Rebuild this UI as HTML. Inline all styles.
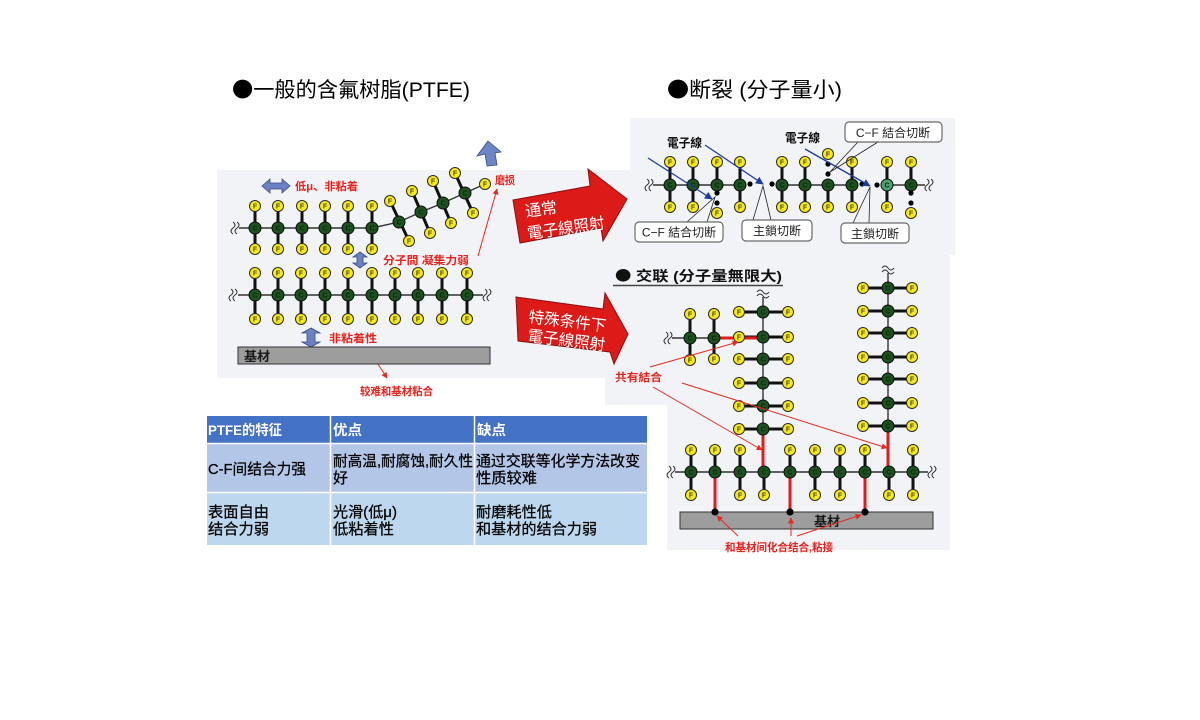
<!DOCTYPE html>
<html><head><meta charset="utf-8">
<style>
html,body{margin:0;padding:0;background:#fff;}
svg{display:block;}
text{font-family:"Liberation Sans","Noto Sans CJK SC",sans-serif;}
.F{fill:#f6ea1c;stroke:#2a2a2a;stroke-width:1;}
.C{fill:#1e5120;stroke:#0d0d0d;stroke-width:1;}
.CL{fill:#4fa070;stroke:#0d0d0d;stroke-width:1;}
.ft text{font-size:7px;font-weight:bold;text-anchor:middle;fill:#4a4a20;}
.ct text{font-size:7px;font-weight:bold;text-anchor:middle;fill:#0a2a0a;}
.bd{stroke:#111;stroke-width:3;fill:none;}
.bb{stroke:#333;stroke-width:1.4;fill:none;}
.sq{stroke:#333;stroke-width:1;fill:none;}
.rb{stroke:#e21b1b;stroke-width:3;fill:none;}
.rl{stroke:#e42a22;stroke-width:1;fill:none;}
.red{fill:#e4241e;font-weight:bold;font-size:11px;}
.bl{stroke:#1c3c9c;stroke-width:1.3;fill:none;}
.box{fill:#fff;stroke:#6a6a6a;stroke-width:1.2;}
.bt{font-size:12px;text-anchor:middle;fill:#222;}
.tb{font-size:15px;fill:#000;stroke:#000;stroke-width:0.25;}
.th{font-size:14px;fill:#fff;font-weight:bold;}
.aw{font-size:16px;fill:#fff;}
.cjk{font-family:"Noto Sans CJK SC",sans-serif;}
</style></head>
<body>
<svg width="1200" height="720" viewBox="0 0 1200 720" xmlns="http://www.w3.org/2000/svg">
<defs>
<marker id="ar" viewBox="0 0 10 10" refX="9" refY="5" markerWidth="6" markerHeight="6" orient="auto"><path d="M0,0 L10,5 L0,10 z" fill="#e42a22"/></marker>
<marker id="ab" viewBox="0 0 10 10" refX="9" refY="5" markerWidth="6" markerHeight="6" orient="auto"><path d="M0,0 L10,5 L0,10 z" fill="#1c3c9c"/></marker>
</defs>
<rect width="1200" height="720" fill="#fff"/>

<!-- backgrounds -->
<rect x="217" y="170" width="420" height="208" fill="#f2f3f7"/>
<rect x="630" y="118" width="325" height="137" fill="#f2f3f7"/>
<rect x="605" y="255" width="345" height="150" fill="#f2f3f7"/>
<rect x="667" y="400" width="283" height="150" fill="#f2f3f7"/>

<!-- titles -->
<text x="232" y="97" font-size="21" textLength="238" lengthAdjust="spacingAndGlyphs" fill="#000"><tspan class="cjk">●</tspan>一般的含氟树脂(PTFE)</text>
<text x="667" y="97" font-size="21" textLength="175" lengthAdjust="spacingAndGlyphs" fill="#000"><tspan class="cjk">●</tspan>断裂 (分子量小)</text>

<!-- ===== LEFT PANEL ===== -->
<polyline class="bb" points="239,228 372,228 399,222 421,212 443,203 465,193 485,184"/>
<path class="sq" d="M233,222 q4,3 0,6 q-4,3 0,6 M237,222 q4,3 0,6 q-4,3 0,6"/>
<g class="bd">
<line x1="255" y1="206" x2="255" y2="249"/><line x1="278" y1="206" x2="278" y2="249"/>
<line x1="302" y1="206" x2="302" y2="249"/><line x1="325" y1="206" x2="325" y2="249"/>
<line x1="348" y1="206" x2="348" y2="249"/><line x1="372" y1="206" x2="372" y2="249"/>
<line x1="390" y1="201" x2="409" y2="241"/><line x1="412" y1="191" x2="430" y2="233"/>
<line x1="433" y1="181" x2="451" y2="223"/><line x1="455" y1="173" x2="473" y2="213"/>
</g>
<line class="bb" x1="238" y1="295" x2="483" y2="295"/>
<path class="sq" d="M231,289 q4,3 0,6 q-4,3 0,6 M235,289 q4,3 0,6 q-4,3 0,6"/>
<path class="sq" d="M485,289 q4,3 0,6 q-4,3 0,6 M489,289 q4,3 0,6 q-4,3 0,6"/>
<g class="bd">
<line x1="255" y1="273" x2="255" y2="319"/><line x1="278" y1="273" x2="278" y2="319"/>
<line x1="301" y1="273" x2="301" y2="319"/><line x1="325" y1="273" x2="325" y2="319"/>
<line x1="348" y1="273" x2="348" y2="319"/><line x1="372" y1="273" x2="372" y2="319"/>
<line x1="395" y1="273" x2="395" y2="319"/><line x1="418" y1="273" x2="418" y2="319"/>
<line x1="442" y1="273" x2="442" y2="319"/><line x1="467" y1="273" x2="467" y2="319"/>
</g>

<g class="ft">
<circle class="F" cx="255" cy="206" r="5.5"/><text x="255" y="208.5">F</text>
<circle class="F" cx="278" cy="206" r="5.5"/><text x="278" y="208.5">F</text>
<circle class="F" cx="302" cy="206" r="5.5"/><text x="302" y="208.5">F</text>
<circle class="F" cx="325" cy="206" r="5.5"/><text x="325" y="208.5">F</text>
<circle class="F" cx="348" cy="206" r="5.5"/><text x="348" y="208.5">F</text>
<circle class="F" cx="372" cy="206" r="5.5"/><text x="372" y="208.5">F</text>
<circle class="F" cx="255" cy="249" r="5.5"/><text x="255" y="251.5">F</text>
<circle class="F" cx="278" cy="249" r="5.5"/><text x="278" y="251.5">F</text>
<circle class="F" cx="302" cy="249" r="5.5"/><text x="302" y="251.5">F</text>
<circle class="F" cx="325" cy="249" r="5.5"/><text x="325" y="251.5">F</text>
<circle class="F" cx="348" cy="249" r="5.5"/><text x="348" y="251.5">F</text>
<circle class="F" cx="372" cy="249" r="5.5"/><text x="372" y="251.5">F</text>
<circle class="F" cx="390" cy="201" r="5.5"/><text x="390" y="203.5">F</text>
<circle class="F" cx="409" cy="241" r="5.5"/><text x="409" y="243.5">F</text>
<circle class="F" cx="412" cy="191" r="5.5"/><text x="412" y="193.5">F</text>
<circle class="F" cx="430" cy="233" r="5.5"/><text x="430" y="235.5">F</text>
<circle class="F" cx="433" cy="181" r="5.5"/><text x="433" y="183.5">F</text>
<circle class="F" cx="451" cy="223" r="5.5"/><text x="451" y="225.5">F</text>
<circle class="F" cx="455" cy="173" r="5.5"/><text x="455" y="175.5">F</text>
<circle class="F" cx="473" cy="213" r="5.5"/><text x="473" y="215.5">F</text>
<circle class="F" cx="485" cy="184" r="5.5"/><text x="485" y="186.5">F</text>

<circle class="F" cx="255" cy="273" r="5.5"/><text x="255" y="275.5">F</text>
<circle class="F" cx="278" cy="273" r="5.5"/><text x="278" y="275.5">F</text>
<circle class="F" cx="301" cy="273" r="5.5"/><text x="301" y="275.5">F</text>
<circle class="F" cx="325" cy="273" r="5.5"/><text x="325" y="275.5">F</text>
<circle class="F" cx="348" cy="273" r="5.5"/><text x="348" y="275.5">F</text>
<circle class="F" cx="372" cy="273" r="5.5"/><text x="372" y="275.5">F</text>
<circle class="F" cx="395" cy="273" r="5.5"/><text x="395" y="275.5">F</text>
<circle class="F" cx="418" cy="273" r="5.5"/><text x="418" y="275.5">F</text>
<circle class="F" cx="442" cy="273" r="5.5"/><text x="442" y="275.5">F</text>
<circle class="F" cx="467" cy="273" r="5.5"/><text x="467" y="275.5">F</text>
<circle class="F" cx="255" cy="319" r="5.5"/><text x="255" y="321.5">F</text>
<circle class="F" cx="278" cy="319" r="5.5"/><text x="278" y="321.5">F</text>
<circle class="F" cx="301" cy="319" r="5.5"/><text x="301" y="321.5">F</text>
<circle class="F" cx="325" cy="319" r="5.5"/><text x="325" y="321.5">F</text>
<circle class="F" cx="348" cy="319" r="5.5"/><text x="348" y="321.5">F</text>
<circle class="F" cx="372" cy="319" r="5.5"/><text x="372" y="321.5">F</text>
<circle class="F" cx="395" cy="319" r="5.5"/><text x="395" y="321.5">F</text>
<circle class="F" cx="418" cy="319" r="5.5"/><text x="418" y="321.5">F</text>
<circle class="F" cx="442" cy="319" r="5.5"/><text x="442" y="321.5">F</text>
<circle class="F" cx="467" cy="319" r="5.5"/><text x="467" y="321.5">F</text>
</g>
<g class="ct">
<circle class="C" cx="255" cy="228" r="6"/><text x="255" y="230.5">C</text>
<circle class="C" cx="278" cy="228" r="6"/><text x="278" y="230.5">C</text>
<circle class="C" cx="302" cy="228" r="6"/><text x="302" y="230.5">C</text>
<circle class="C" cx="325" cy="228" r="6"/><text x="325" y="230.5">C</text>
<circle class="C" cx="348" cy="228" r="6"/><text x="348" y="230.5">C</text>
<circle class="C" cx="372" cy="228" r="6"/><text x="372" y="230.5">C</text>
<circle class="C" cx="399" cy="222" r="6"/><text x="399" y="224.5">C</text>
<circle class="C" cx="421" cy="212" r="6"/><text x="421" y="214.5">C</text>
<circle class="C" cx="443" cy="203" r="6"/><text x="443" y="205.5">C</text>
<circle class="C" cx="465" cy="193" r="6"/><text x="465" y="195.5">C</text>
<circle class="C" cx="255" cy="295" r="6"/><text x="255" y="297.5">C</text>
<circle class="C" cx="278" cy="295" r="6"/><text x="278" y="297.5">C</text>
<circle class="C" cx="301" cy="295" r="6"/><text x="301" y="297.5">C</text>
<circle class="C" cx="325" cy="295" r="6"/><text x="325" y="297.5">C</text>
<circle class="C" cx="348" cy="295" r="6"/><text x="348" y="297.5">C</text>
<circle class="C" cx="372" cy="295" r="6"/><text x="372" y="297.5">C</text>
<circle class="C" cx="395" cy="295" r="6"/><text x="395" y="297.5">C</text>
<circle class="C" cx="418" cy="295" r="6"/><text x="418" y="297.5">C</text>
<circle class="C" cx="442" cy="295" r="6"/><text x="442" y="297.5">C</text>
<circle class="C" cx="467" cy="295" r="6"/><text x="467" y="297.5">C</text>
</g>

<polygon points="262,186 270,179 270,183 282,183 282,179 290,186 282,193 282,189 270,189 270,193" fill="#6c80c4" stroke="#3a4a80" stroke-width="0.8"/>
<polygon points="360,252 367,257 363,257 363,263 367,263 360,268 353,263 357,263 357,257 353,257" fill="#6c80c4" stroke="#3a4a80" stroke-width="0.8"/>
<polygon points="311,328 320,333 315,333 315,342 320,342 311,347 302,342 307,342 307,333 302,333" fill="#6c80c4" stroke="#3a4a80" stroke-width="0.8"/>
<polygon points="488,141 501,152 495,153 497,165 487,166 485,154 477,156" fill="#6c86c8" stroke="#3a4a80" stroke-width="0.8"/>

<text class="red" x="295" y="190" textLength="63" lengthAdjust="spacingAndGlyphs">低μ、非粘着</text>
<text class="red" x="383" y="264" textLength="86" lengthAdjust="spacingAndGlyphs">分子間 凝集力弱</text>
<text class="red" x="329" y="342" font-size="12" textLength="48" lengthAdjust="spacingAndGlyphs">非粘着性</text>
<text class="red" x="495" y="184" textLength="20" lengthAdjust="spacingAndGlyphs">磨损</text>
<line class="rl" x1="478" y1="256" x2="497" y2="189" marker-end="url(#ar)"/>
<line class="rl" x1="367" y1="347" x2="387" y2="378" marker-end="url(#ar)"/>
<text class="red" x="360" y="395" font-size="10.5" textLength="73" lengthAdjust="spacingAndGlyphs">较难和基材粘合</text>

<rect x="238" y="347" width="252" height="17" fill="#9d9d9d" stroke="#333" stroke-width="1"/>
<text x="244" y="361" font-size="13" font-weight="bold" fill="#1a1a1a">基材</text>

<!-- ===== RED ARROWS ===== -->
<polygon points="513,200 590,186 588,169 627,199 603,241 601,228 520,243" fill="#dc1a18" stroke="#8a1010" stroke-width="1"/>
<text class="aw" transform="translate(526,217) rotate(-8)">通常</text>
<text class="aw" transform="translate(528,239) rotate(-8)" textLength="78" lengthAdjust="spacingAndGlyphs">電子線照射</text>
<polygon points="516,297 603,309 605,293 628,334 614,364 610,352 518,341" fill="#dc1a18" stroke="#8a1010" stroke-width="1"/>
<text class="aw" transform="translate(528,322) rotate(7)" textLength="78" lengthAdjust="spacingAndGlyphs">特殊条件下</text>
<text class="aw" transform="translate(527,341) rotate(7)" textLength="78" lengthAdjust="spacingAndGlyphs">電子線照射</text>

<!-- ===== TABLE ===== -->
<rect x="207" y="416" width="440" height="27" fill="#4472c4"/>
<rect x="207" y="444" width="440" height="48" fill="#b4c6e7"/>
<rect x="207" y="493" width="440" height="52" fill="#bdd7ee"/>
<line x1="330.5" y1="416" x2="330.5" y2="545" stroke="#fff" stroke-width="1.5"/>
<line x1="474.5" y1="416" x2="474.5" y2="545" stroke="#fff" stroke-width="1.5"/>
<line x1="207" y1="443.5" x2="647" y2="443.5" stroke="#fff" stroke-width="1.5"/>
<line x1="207" y1="492.5" x2="647" y2="492.5" stroke="#fff" stroke-width="1.5"/>
<text class="th" x="208" y="435" textLength="74" lengthAdjust="spacingAndGlyphs">PTFE的特征</text>
<text class="th" x="333" y="435" textLength="29" lengthAdjust="spacingAndGlyphs">优点</text>
<text class="th" x="477" y="435" textLength="29" lengthAdjust="spacingAndGlyphs">缺点</text>
<text class="tb" x="208" y="474" font-size="14" textLength="98" lengthAdjust="spacingAndGlyphs">C-F间结合力强</text>
<text class="tb" x="333" y="466" textLength="140" lengthAdjust="spacingAndGlyphs">耐高温,耐腐蚀,耐久性</text>
<text class="tb" x="333" y="483">好</text>
<text class="tb" x="476" y="466" textLength="164" lengthAdjust="spacingAndGlyphs">通过交联等化学方法改变</text>
<text class="tb" x="476" y="483" textLength="61" lengthAdjust="spacingAndGlyphs">性质较难</text>
<text class="tb" x="208" y="517" textLength="61" lengthAdjust="spacingAndGlyphs">表面自由</text>
<text class="tb" x="208" y="534" textLength="61" lengthAdjust="spacingAndGlyphs">结合力弱</text>
<text class="tb" x="333" y="517" textLength="64" lengthAdjust="spacingAndGlyphs">光滑(低μ)</text>
<text class="tb" x="333" y="534" textLength="61" lengthAdjust="spacingAndGlyphs">低粘着性</text>
<text class="tb" x="476" y="517" textLength="76" lengthAdjust="spacingAndGlyphs">耐磨耗性低</text>
<text class="tb" x="476" y="534" textLength="121" lengthAdjust="spacingAndGlyphs">和基材的结合力弱</text>

<!-- ===== RIGHT TOP (scission) ===== -->
<line class="bb" x1="653" y1="185" x2="746" y2="185"/>
<line class="bb" x1="776" y1="185" x2="858" y2="185"/>
<line class="bb" x1="881" y1="185" x2="925" y2="185"/>
<path class="sq" d="M647,179 q4,3 0,6 q-4,3 0,6 M651,179 q4,3 0,6 q-4,3 0,6"/>
<path class="sq" d="M927,179 q4,3 0,6 q-4,3 0,6 M931,179 q4,3 0,6 q-4,3 0,6"/>
<g class="bd">
<line x1="670" y1="162" x2="670" y2="207"/><line x1="693" y1="162" x2="693" y2="207"/>
<line x1="717" y1="162" x2="717" y2="185"/><line x1="740" y1="162" x2="740" y2="207"/>
<line x1="782" y1="162" x2="782" y2="207"/><line x1="805" y1="162" x2="805" y2="207"/>
<line x1="828" y1="185" x2="828" y2="207"/><line x1="852" y1="162" x2="852" y2="207"/>
<line x1="887" y1="162" x2="887" y2="207"/><line x1="911" y1="162" x2="911" y2="185"/>
</g>
<g fill="#000">
<circle cx="750" cy="184" r="2.6"/><circle cx="717" cy="193" r="2.6"/><circle cx="717" cy="203" r="2.6"/>
<circle cx="772" cy="184" r="2.6"/><circle cx="828" cy="174" r="2.6"/><circle cx="828" cy="164" r="2.6"/>
<circle cx="862" cy="184" r="2.6"/><circle cx="877" cy="185" r="2.6"/>
<circle cx="911" cy="193" r="2.6"/><circle cx="911" cy="203" r="2.6"/>
</g>
<g class="ft">
<circle class="F" cx="670" cy="162" r="5.5"/><text x="670" y="164.5">F</text>
<circle class="F" cx="693" cy="162" r="5.5"/><text x="693" y="164.5">F</text>
<circle class="F" cx="717" cy="162" r="5.5"/><text x="717" y="164.5">F</text>
<circle class="F" cx="740" cy="162" r="5.5"/><text x="740" y="164.5">F</text>
<circle class="F" cx="670" cy="207" r="5.5"/><text x="670" y="209.5">F</text>
<circle class="F" cx="693" cy="207" r="5.5"/><text x="693" y="209.5">F</text>
<circle class="F" cx="717" cy="213" r="5.5"/><text x="717" y="215.5">F</text>
<circle class="F" cx="740" cy="207" r="5.5"/><text x="740" y="209.5">F</text>
<circle class="F" cx="782" cy="162" r="5.5"/><text x="782" y="164.5">F</text>
<circle class="F" cx="805" cy="162" r="5.5"/><text x="805" y="164.5">F</text>
<circle class="F" cx="828" cy="154" r="5.5"/><text x="828" y="156.5">F</text>
<circle class="F" cx="852" cy="162" r="5.5"/><text x="852" y="164.5">F</text>
<circle class="F" cx="782" cy="207" r="5.5"/><text x="782" y="209.5">F</text>
<circle class="F" cx="805" cy="207" r="5.5"/><text x="805" y="209.5">F</text>
<circle class="F" cx="828" cy="207" r="5.5"/><text x="828" y="209.5">F</text>
<circle class="F" cx="852" cy="207" r="5.5"/><text x="852" y="209.5">F</text>
<circle class="F" cx="887" cy="162" r="5.5"/><text x="887" y="164.5">F</text>
<circle class="F" cx="911" cy="162" r="5.5"/><text x="911" y="164.5">F</text>
<circle class="F" cx="887" cy="207" r="5.5"/><text x="887" y="209.5">F</text>
<circle class="F" cx="911" cy="213" r="5.5"/><text x="911" y="215.5">F</text>
</g>
<g class="ct">
<circle class="C" cx="670" cy="185" r="6"/><text x="670" y="187.5">C</text>
<circle class="C" cx="693" cy="185" r="6"/><text x="693" y="187.5">C</text>
<circle class="C" cx="717" cy="185" r="6"/><text x="717" y="187.5">C</text>
<circle class="C" cx="740" cy="185" r="6"/><text x="740" y="187.5">C</text>
<circle class="C" cx="782" cy="185" r="6"/><text x="782" y="187.5">C</text>
<circle class="C" cx="805" cy="185" r="6"/><text x="805" y="187.5">C</text>
<circle class="C" cx="828" cy="185" r="6"/><text x="828" y="187.5">C</text>
<circle class="C" cx="852" cy="185" r="6"/><text x="852" y="187.5">C</text>
<circle class="CL" cx="887" cy="185" r="6"/><text x="887" y="187.5">C</text>
<circle class="C" cx="911" cy="185" r="6"/><text x="911" y="187.5">C</text>
</g>
<line class="bl" x1="648" y1="158" x2="712" y2="199" marker-end="url(#ab)"/>
<line class="bl" x1="705" y1="145" x2="763" y2="184" marker-end="url(#ab)"/>
<line class="bl" x1="805" y1="149" x2="870" y2="186" marker-end="url(#ab)"/>
<text x="667" y="147" font-size="12" font-weight="bold" fill="#111" textLength="35" lengthAdjust="spacingAndGlyphs">電子線</text>
<text x="785" y="142" font-size="12" font-weight="bold" fill="#111" textLength="35" lengthAdjust="spacingAndGlyphs">電子線</text>
<g stroke="#222" stroke-width="0.8" fill="none">
<polyline points="687,222 715,197 707,222"/>
<polyline points="753,220 763,186 771,220"/>
<polyline points="853,223 870,187 869,223"/>
<polyline points="858,142 830,172 878,142"/>
</g>
<rect class="box" x="635" y="222" width="88" height="20" rx="4"/>
<text class="bt" x="679" y="236.5">C−F 結合切断</text>
<rect class="box" x="742" y="220" width="70" height="21" rx="4"/>
<text class="bt" x="777" y="235">主鎖切断</text>
<rect class="box" x="841" y="223" width="68" height="20" rx="4"/>
<text class="bt" x="875" y="238">主鎖切断</text>
<rect class="box" x="845" y="122" width="97" height="20" rx="4"/>
<text class="bt" x="893" y="137">C−F 結合切断</text>

<!-- ===== CROSSLINK ===== -->
<text x="615" y="281" font-size="14" font-weight="bold" fill="#111" textLength="167" lengthAdjust="spacingAndGlyphs"><tspan class="cjk">●</tspan> 交联 (分子量無限大)</text>
<line x1="613" y1="285.5" x2="783" y2="285.5" stroke="#444" stroke-width="1.5"/>

<line class="bb" x1="672" y1="338" x2="714" y2="338"/>
<path class="sq" d="M666,332 q4,3 0,6 q-4,3 0,6 M670,332 q4,3 0,6 q-4,3 0,6"/>
<line class="bb" x1="763" y1="297" x2="763" y2="429"/>
<path class="sq" d="M757,292 q3,-4 6,0 q3,4 6,0 M757,296 q3,-4 6,0 q3,4 6,0"/>
<line class="bb" x1="888" y1="273" x2="888" y2="426"/>
<path class="sq" d="M882,268 q3,-4 6,0 q3,4 6,0 M882,272 q3,-4 6,0 q3,4 6,0"/>
<line class="bb" x1="675" y1="472" x2="928" y2="472"/>
<path class="sq" d="M669,466 q4,3 0,6 q-4,3 0,6 M673,466 q4,3 0,6 q-4,3 0,6"/>
<path class="sq" d="M930,466 q4,3 0,6 q-4,3 0,6 M934,466 q4,3 0,6 q-4,3 0,6"/>

<g class="bd">
<line x1="690" y1="314" x2="690" y2="360"/><line x1="714" y1="314" x2="714" y2="359"/>
<line x1="739" y1="312" x2="788" y2="312"/><line x1="739" y1="337" x2="788" y2="337"/>
<line x1="739" y1="359" x2="788" y2="359"/><line x1="739" y1="383" x2="788" y2="383"/>
<line x1="739" y1="406" x2="788" y2="406"/><line x1="739" y1="429" x2="788" y2="429"/>
<line x1="863" y1="288" x2="912" y2="288"/><line x1="863" y1="311" x2="912" y2="311"/>
<line x1="863" y1="333" x2="912" y2="333"/><line x1="863" y1="357" x2="912" y2="357"/>
<line x1="863" y1="379" x2="912" y2="379"/><line x1="863" y1="403" x2="912" y2="403"/>
<line x1="863" y1="426" x2="912" y2="426"/>
<line x1="691" y1="450" x2="691" y2="495"/><line x1="715" y1="450" x2="715" y2="472"/>
<line x1="740" y1="450" x2="740" y2="495"/><line x1="764" y1="472" x2="764" y2="495"/>
<line x1="790" y1="450" x2="790" y2="472"/><line x1="815" y1="450" x2="815" y2="495"/>
<line x1="840" y1="450" x2="840" y2="495"/><line x1="865" y1="450" x2="865" y2="472"/>
<line x1="889" y1="472" x2="889" y2="495"/><line x1="913" y1="450" x2="913" y2="495"/>
</g>
<line class="rb" x1="714" y1="338" x2="763" y2="338"/>
<line class="rb" x1="763" y1="429" x2="763" y2="472"/>
<line class="rb" x1="888" y1="426" x2="888" y2="472"/>
<line class="rb" x1="715" y1="472" x2="715" y2="512"/>
<line class="rb" x1="790" y1="472" x2="790" y2="512"/>
<line class="rb" x1="865" y1="472" x2="865" y2="512"/>

<rect x="680" y="512" width="253" height="17" fill="#9d9d9d" stroke="#333" stroke-width="1"/>
<text x="827" y="526" font-size="13" font-weight="bold" fill="#1a1a1a" text-anchor="middle">基材</text>
<g fill="#000">
<circle cx="715" cy="512" r="3.6"/><circle cx="790" cy="512" r="3.6"/><circle cx="865" cy="512" r="3.6"/>
</g>

<g class="ft">
<circle class="F" cx="690" cy="314" r="5.5"/><text x="690" y="316.5">F</text>
<circle class="F" cx="714" cy="314" r="5.5"/><text x="714" y="316.5">F</text>
<circle class="F" cx="690" cy="360" r="5.5"/><text x="690" y="362.5">F</text>
<circle class="F" cx="714" cy="359" r="5.5"/><text x="714" y="361.5">F</text>

<circle class="F" cx="739" cy="312" r="5.5"/><text x="739" y="314.5">F</text>
<circle class="F" cx="788" cy="312" r="5.5"/><text x="788" y="314.5">F</text>
<circle class="F" cx="739" cy="337" r="5.5"/><text x="739" y="339.5">F</text>
<circle class="F" cx="788" cy="337" r="5.5"/><text x="788" y="339.5">F</text>
<circle class="F" cx="739" cy="359" r="5.5"/><text x="739" y="361.5">F</text>
<circle class="F" cx="788" cy="359" r="5.5"/><text x="788" y="361.5">F</text>
<circle class="F" cx="739" cy="383" r="5.5"/><text x="739" y="385.5">F</text>
<circle class="F" cx="788" cy="383" r="5.5"/><text x="788" y="385.5">F</text>
<circle class="F" cx="739" cy="406" r="5.5"/><text x="739" y="408.5">F</text>
<circle class="F" cx="788" cy="406" r="5.5"/><text x="788" y="408.5">F</text>
<circle class="F" cx="739" cy="429" r="5.5"/><text x="739" y="431.5">F</text>
<circle class="F" cx="788" cy="429" r="5.5"/><text x="788" y="431.5">F</text>

<circle class="F" cx="863" cy="288" r="5.5"/><text x="863" y="290.5">F</text>
<circle class="F" cx="912" cy="288" r="5.5"/><text x="912" y="290.5">F</text>
<circle class="F" cx="863" cy="311" r="5.5"/><text x="863" y="313.5">F</text>
<circle class="F" cx="912" cy="311" r="5.5"/><text x="912" y="313.5">F</text>
<circle class="F" cx="863" cy="333" r="5.5"/><text x="863" y="335.5">F</text>
<circle class="F" cx="912" cy="333" r="5.5"/><text x="912" y="335.5">F</text>
<circle class="F" cx="863" cy="357" r="5.5"/><text x="863" y="359.5">F</text>
<circle class="F" cx="912" cy="357" r="5.5"/><text x="912" y="359.5">F</text>
<circle class="F" cx="863" cy="379" r="5.5"/><text x="863" y="381.5">F</text>
<circle class="F" cx="912" cy="379" r="5.5"/><text x="912" y="381.5">F</text>
<circle class="F" cx="863" cy="403" r="5.5"/><text x="863" y="405.5">F</text>
<circle class="F" cx="912" cy="403" r="5.5"/><text x="912" y="405.5">F</text>
<circle class="F" cx="863" cy="426" r="5.5"/><text x="863" y="428.5">F</text>
<circle class="F" cx="912" cy="426" r="5.5"/><text x="912" y="428.5">F</text>

<circle class="F" cx="691" cy="450" r="5.5"/><text x="691" y="452.5">F</text>
<circle class="F" cx="715" cy="450" r="5.5"/><text x="715" y="452.5">F</text>
<circle class="F" cx="740" cy="450" r="5.5"/><text x="740" y="452.5">F</text>
<circle class="F" cx="790" cy="450" r="5.5"/><text x="790" y="452.5">F</text>
<circle class="F" cx="815" cy="450" r="5.5"/><text x="815" y="452.5">F</text>
<circle class="F" cx="840" cy="450" r="5.5"/><text x="840" y="452.5">F</text>
<circle class="F" cx="865" cy="450" r="5.5"/><text x="865" y="452.5">F</text>
<circle class="F" cx="913" cy="450" r="5.5"/><text x="913" y="452.5">F</text>
<circle class="F" cx="691" cy="495" r="5.5"/><text x="691" y="497.5">F</text>
<circle class="F" cx="740" cy="495" r="5.5"/><text x="740" y="497.5">F</text>
<circle class="F" cx="764" cy="495" r="5.5"/><text x="764" y="497.5">F</text>
<circle class="F" cx="815" cy="495" r="5.5"/><text x="815" y="497.5">F</text>
<circle class="F" cx="840" cy="495" r="5.5"/><text x="840" y="497.5">F</text>
<circle class="F" cx="889" cy="495" r="5.5"/><text x="889" y="497.5">F</text>
<circle class="F" cx="913" cy="495" r="5.5"/><text x="913" y="497.5">F</text>
</g>
<g class="ct">
<circle class="C" cx="690" cy="338" r="6"/><text x="690" y="340.5">C</text>
<circle class="C" cx="714" cy="338" r="6"/><text x="714" y="340.5">C</text>
<circle class="C" cx="763" cy="312" r="6"/><text x="763" y="314.5">C</text>
<circle class="C" cx="763" cy="337" r="6"/><text x="763" y="339.5">C</text>
<circle class="C" cx="763" cy="359" r="6"/><text x="763" y="361.5">C</text>
<circle class="C" cx="763" cy="383" r="6"/><text x="763" y="385.5">C</text>
<circle class="C" cx="763" cy="406" r="6"/><text x="763" y="408.5">C</text>
<circle class="C" cx="763" cy="429" r="6"/><text x="763" y="431.5">C</text>
<circle class="C" cx="888" cy="288" r="6"/><text x="888" y="290.5">C</text>
<circle class="C" cx="888" cy="311" r="6"/><text x="888" y="313.5">C</text>
<circle class="C" cx="888" cy="333" r="6"/><text x="888" y="335.5">C</text>
<circle class="C" cx="888" cy="357" r="6"/><text x="888" y="359.5">C</text>
<circle class="C" cx="888" cy="379" r="6"/><text x="888" y="381.5">C</text>
<circle class="C" cx="888" cy="403" r="6"/><text x="888" y="405.5">C</text>
<circle class="C" cx="888" cy="426" r="6"/><text x="888" y="428.5">C</text>
<circle class="C" cx="691" cy="472" r="6"/><text x="691" y="474.5">C</text>
<circle class="C" cx="715" cy="472" r="6"/><text x="715" y="474.5">C</text>
<circle class="C" cx="740" cy="472" r="6"/><text x="740" y="474.5">C</text>
<circle class="C" cx="764" cy="472" r="6"/><text x="764" y="474.5">C</text>
<circle class="C" cx="790" cy="472" r="6"/><text x="790" y="474.5">C</text>
<circle class="C" cx="815" cy="472" r="6"/><text x="815" y="474.5">C</text>
<circle class="C" cx="840" cy="472" r="6"/><text x="840" y="474.5">C</text>
<circle class="C" cx="865" cy="472" r="6"/><text x="865" y="474.5">C</text>
<circle class="C" cx="889" cy="472" r="6"/><text x="889" y="474.5">C</text>
<circle class="C" cx="913" cy="472" r="6"/><text x="913" y="474.5">C</text>
</g>

<text class="red" x="615" y="381" textLength="47" lengthAdjust="spacingAndGlyphs">共有結合</text>
<line class="rl" x1="650" y1="367" x2="738" y2="342" marker-end="url(#ar)"/>
<line class="rl" x1="653" y1="387" x2="762" y2="450" marker-end="url(#ar)"/>
<line class="rl" x1="682" y1="383" x2="887" y2="448" marker-end="url(#ar)"/>
<text class="red" x="725" y="551" textLength="108" lengthAdjust="spacingAndGlyphs">和基材间化合结合,粘接</text>
<line class="rl" x1="738" y1="536" x2="717" y2="516" marker-end="url(#ar)"/>
<line class="rl" x1="791" y1="536" x2="791" y2="518" marker-end="url(#ar)"/>
<line class="rl" x1="797" y1="536" x2="861" y2="515" marker-end="url(#ar)"/>
</svg>
</body></html>
